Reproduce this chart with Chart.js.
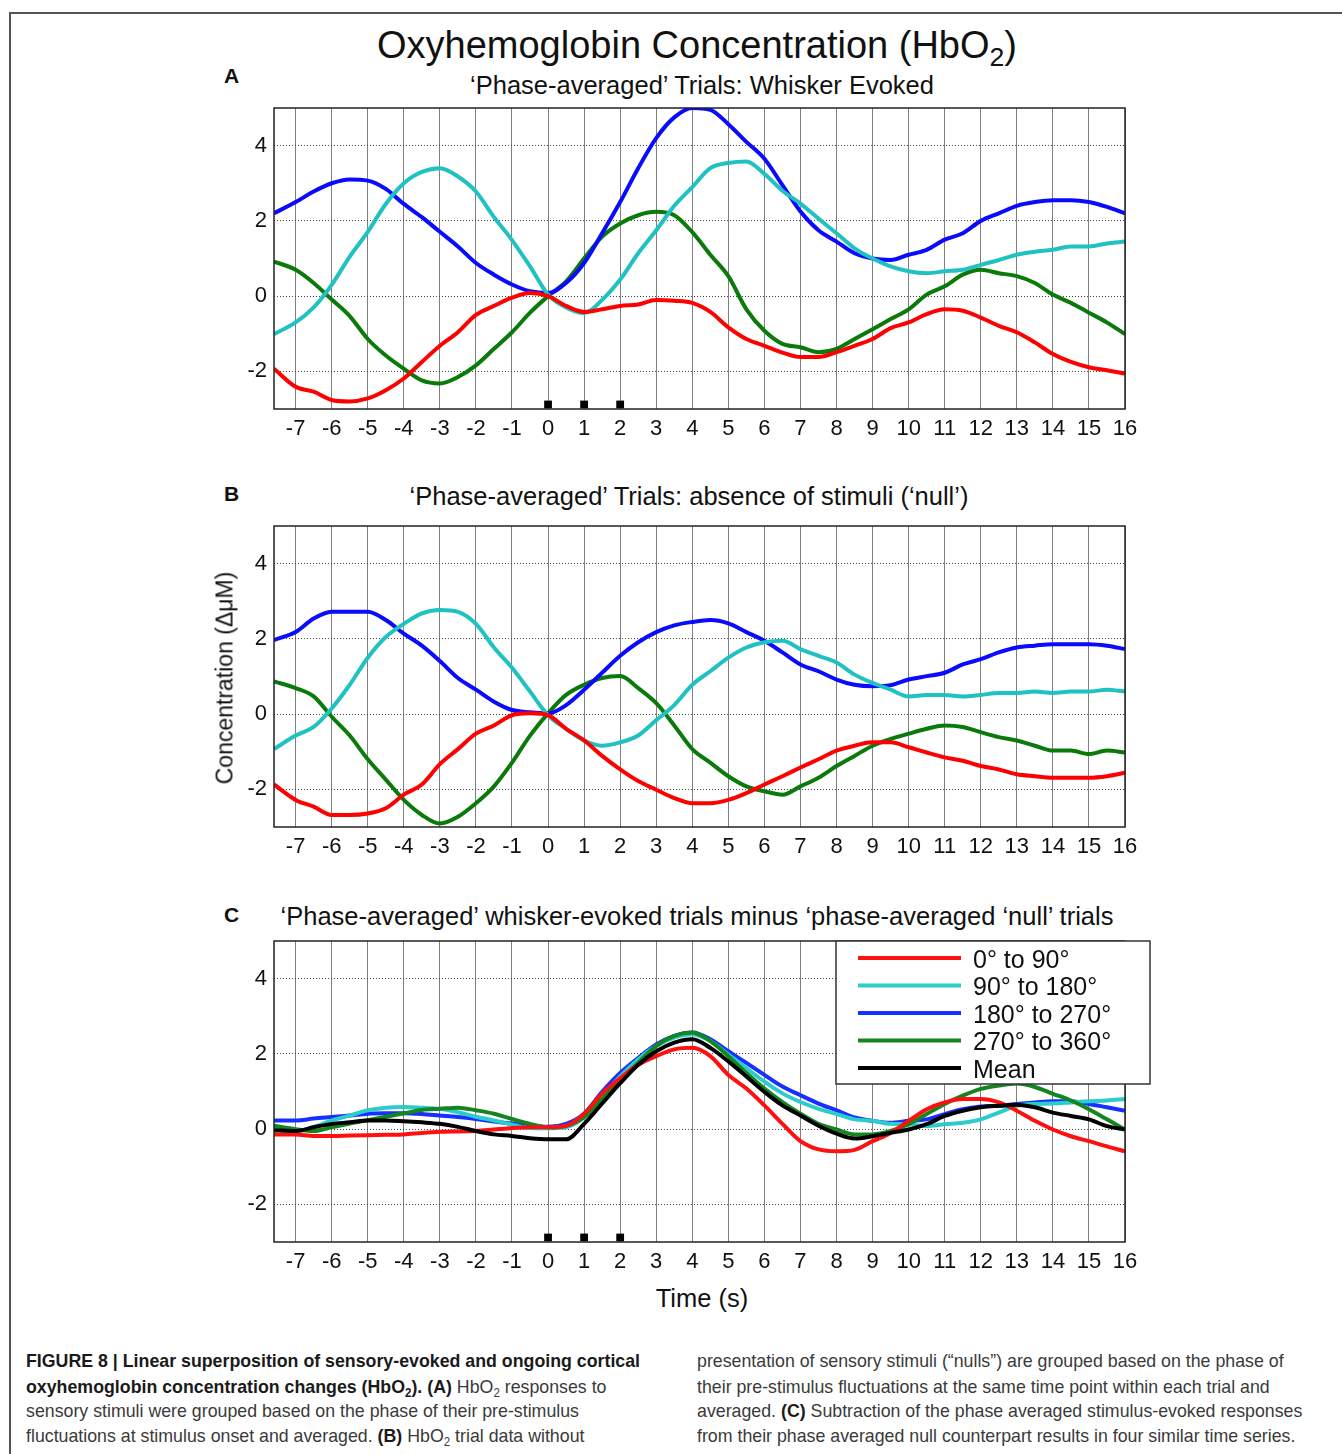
<!DOCTYPE html>
<html>
<head>
<meta charset="utf-8">
<script src="https://cdn.jsdelivr.net/npm/chart.js@4.4.1/dist/chart.umd.min.js"></script>
<style>
body{margin:0;background:#fff;width:1342px;height:1454px;overflow:hidden;position:relative;font-family:"Liberation Sans",Arial,sans-serif;}
.frame{position:absolute;left:9px;top:12px;width:1340px;height:1450px;border-top:2px solid #555;border-left:2px solid #555;}
canvas{position:absolute;left:200px;}
.t{position:absolute;white-space:nowrap;line-height:1;color:#111;}
.c{transform:translateX(-50%);}
.t sub{font-size:0.7em;vertical-align:-0.3em;line-height:0;}
.cap{position:absolute;font-family:"Liberation Sans Narrow","Arial Narrow","Liberation Sans",sans-serif;font-size:19px;color:#3a3a3a;line-height:1;white-space:nowrap;transform:scaleX(0.935);transform-origin:0 0;}
.cap b{color:#1a1a1a}
.cap sub{font-size:0.65em;vertical-align:-0.3em;line-height:0;}
</style>
</head>
<body>
<div class="frame"></div>
<canvas id="chartA" width="960" height="345" style="top:100px"></canvas>
<canvas id="chartB" width="960" height="345" style="top:518px"></canvas>
<canvas id="chartC" width="960" height="345" style="top:933px"></canvas>

<div class="t c" style="left:697px;top:26px;font-size:38px">Oxyhemoglobin Concentration (HbO<sub>2</sub>)</div>
<div class="t" style="left:224px;top:65px;font-size:21px;font-weight:bold">A</div>
<div class="t c" style="left:702px;top:73px;font-size:25.5px">‘Phase-averaged’ Trials: Whisker Evoked</div>
<div class="t" style="left:224px;top:483px;font-size:21px;font-weight:bold">B</div>
<div class="t c" style="left:689px;top:484px;font-size:25.5px">‘Phase-averaged’ Trials: absence of stimuli (‘null’)</div>
<div class="t" style="left:224px;top:904px;font-size:21px;font-weight:bold">C</div>
<div class="t c" style="left:697px;top:904px;font-size:25.5px">‘Phase-averaged’ whisker-evoked trials minus ‘phase-averaged ‘null’ trials</div>
<div class="t c" style="left:702px;top:1286px;font-size:25.5px">Time (s)</div>
<div class="t" style="left:225px;top:678px;font-size:23px;transform:translate(-50%,-50%) rotate(-90deg)">Concentration (ΔμM)</div>

<div class="cap" style="left:26px;top:1351px"><b>FIGURE 8 | Linear superposition of sensory-evoked and ongoing cortical</b></div>
<div class="cap" style="left:26px;top:1377px"><b>oxyhemoglobin concentration changes (HbO<sub>2</sub>). (A)</b> HbO<sub>2</sub> responses to</div>
<div class="cap" style="left:26px;top:1401px">sensory stimuli were grouped based on the phase of their pre-stimulus</div>
<div class="cap" style="left:26px;top:1426px">fluctuations at stimulus onset and averaged. <b>(B)</b> HbO<sub>2</sub> trial data without</div>
<div class="cap" style="left:697px;top:1351px">presentation of sensory stimuli (“nulls”) are grouped based on the phase of</div>
<div class="cap" style="left:697px;top:1377px">their pre-stimulus fluctuations at the same time point within each trial and</div>
<div class="cap" style="left:697px;top:1401px">averaged. <b>(C)</b> Subtraction of the phase averaged stimulus-evoked responses</div>
<div class="cap" style="left:697px;top:1426px">from their phase averaged null counterpart results in four similar time series.</div>

<script>
// time axis (s) and tick labels
var times = [-7.6,-7,-6.5,-6,-5.5,-5,-4.5,-4,-3.5,-3,-2.5,-2,-1.5,-1,-0.5,0,0.5,1,1.5,2,2.5,3,3.5,4,4.5,5,5.5,6,6.5,7,7.5,8,8.5,9,9.5,10,10.5,11,11.5,12,12.5,13,13.5,14,14.5,15,15.5,16];
var xTicks = [-7,-6,-5,-4,-3,-2,-1,0,1,2,3,4,5,6,7,8,9,10,11,12,13,14,15,16];
var yTicks = [-2,0,2,4];
var stimTimes = [0,1,2];
var phaseLabels = ['0° to 90°','90° to 180°','180° to 270°','270° to 360°','Mean'];

// A: whisker evoked
var redA = [-1.93,-2.41,-2.54,-2.76,-2.8,-2.72,-2.5,-2.19,-1.75,-1.32,-0.96,-0.5,-0.26,-0.04,0.08,0,-0.26,-0.42,-0.35,-0.26,-0.22,-0.1,-0.12,-0.18,-0.42,-0.83,-1.14,-1.32,-1.5,-1.62,-1.62,-1.49,-1.32,-1.14,-0.85,-0.7,-0.48,-0.35,-0.39,-0.57,-0.79,-0.96,-1.23,-1.54,-1.75,-1.89,-1.97,-2.06];
var cyanA = [-1.01,-0.7,-0.3,0.3,1.05,1.71,2.45,3.0,3.3,3.4,3.18,2.78,2.1,1.49,0.79,0.04,-0.3,-0.45,-0.1,0.44,1.14,1.75,2.4,2.9,3.4,3.54,3.58,3.25,2.8,2.46,2.06,1.67,1.27,1.0,0.79,0.66,0.61,0.66,0.7,0.83,0.96,1.1,1.18,1.23,1.32,1.32,1.4,1.45];
var blueA = [2.2,2.5,2.78,3.0,3.1,3.07,2.85,2.45,2.1,1.71,1.32,0.88,0.57,0.31,0.13,0.08,0.35,0.88,1.67,2.5,3.4,4.2,4.75,5.0,4.95,4.57,4.1,3.65,2.95,2.25,1.75,1.45,1.14,1.0,0.96,1.1,1.23,1.5,1.67,2.0,2.2,2.4,2.5,2.55,2.55,2.5,2.37,2.2];
var greenA = [0.92,0.7,0.35,-0.09,-0.53,-1.14,-1.58,-1.93,-2.24,-2.32,-2.15,-1.84,-1.4,-0.96,-0.44,0,0.39,1.0,1.58,1.93,2.15,2.24,2.15,1.7,1.1,0.53,-0.35,-0.92,-1.27,-1.36,-1.49,-1.4,-1.14,-0.88,-0.61,-0.35,0.04,0.26,0.57,0.7,0.61,0.53,0.35,0.04,-0.18,-0.44,-0.7,-1.01];

// B: null trials
var redB = [-1.87,-2.28,-2.46,-2.68,-2.68,-2.64,-2.5,-2.14,-1.87,-1.33,-0.93,-0.52,-0.3,-0.03,0.02,-0.03,-0.39,-0.7,-1.11,-1.47,-1.78,-2.01,-2.23,-2.37,-2.37,-2.28,-2.1,-1.87,-1.65,-1.42,-1.2,-0.97,-0.84,-0.75,-0.75,-0.88,-1.02,-1.15,-1.24,-1.38,-1.47,-1.6,-1.65,-1.69,-1.69,-1.69,-1.65,-1.56];
var cyanB = [-0.93,-0.57,-0.34,0.15,0.78,1.5,2.05,2.4,2.68,2.77,2.72,2.4,1.77,1.23,0.6,-0.03,-0.39,-0.7,-0.84,-0.75,-0.57,-0.16,0.24,0.78,1.14,1.5,1.77,1.91,1.95,1.73,1.55,1.37,1.05,0.83,0.65,0.47,0.51,0.51,0.47,0.51,0.56,0.56,0.6,0.56,0.6,0.6,0.65,0.6];
var blueB = [1.97,2.18,2.54,2.72,2.72,2.72,2.5,2.14,1.82,1.41,0.96,0.65,0.33,0.11,0.05,0.02,0.24,0.65,1.1,1.55,1.91,2.18,2.36,2.45,2.5,2.41,2.18,1.95,1.64,1.32,1.14,0.92,0.78,0.74,0.77,0.92,1.01,1.1,1.32,1.46,1.64,1.77,1.82,1.86,1.86,1.86,1.82,1.73];
var greenB = [0.87,0.69,0.47,-0.07,-0.57,-1.2,-1.74,-2.28,-2.68,-2.91,-2.73,-2.37,-1.92,-1.29,-0.57,0.02,0.51,0.78,0.96,1.01,0.69,0.29,-0.3,-0.93,-1.29,-1.65,-1.92,-2.05,-2.14,-1.92,-1.69,-1.38,-1.11,-0.84,-0.66,-0.52,-0.39,-0.3,-0.34,-0.48,-0.61,-0.7,-0.84,-0.97,-0.97,-1.06,-0.97,-1.02];

// C: evoked minus null
var redC = [-0.14,-0.14,-0.18,-0.18,-0.17,-0.16,-0.15,-0.14,-0.1,-0.07,-0.06,-0.05,-0.01,0.03,0.05,0.05,0.09,0.41,0.95,1.35,1.71,1.94,2.12,2.16,1.94,1.44,1.08,0.63,0.14,-0.32,-0.54,-0.59,-0.55,-0.32,-0.1,0.22,0.53,0.71,0.8,0.8,0.71,0.49,0.22,-0.01,-0.19,-0.32,-0.46,-0.59];
var cyanC = [0.05,-0.05,0.05,0.23,0.36,0.5,0.57,0.59,0.57,0.54,0.45,0.33,0.23,0.12,0.03,0.02,0.05,0.32,0.86,1.4,1.85,2.21,2.43,2.52,2.34,1.98,1.62,1.26,0.95,0.72,0.54,0.4,0.26,0.22,0.14,0.13,0.08,0.13,0.17,0.26,0.44,0.62,0.67,0.68,0.71,0.74,0.76,0.8];
var blueC = [0.23,0.23,0.28,0.32,0.36,0.41,0.42,0.42,0.4,0.36,0.32,0.27,0.2,0.15,0.09,0.06,0.14,0.41,0.99,1.49,1.89,2.25,2.48,2.57,2.39,2.07,1.76,1.44,1.13,0.9,0.68,0.5,0.31,0.22,0.17,0.22,0.26,0.4,0.53,0.6,0.62,0.67,0.71,0.74,0.74,0.67,0.58,0.49];
var greenC = [0.09,0,-0.05,0.05,0.15,0.24,0.33,0.42,0.51,0.54,0.57,0.5,0.41,0.27,0.14,0.05,0.09,0.32,0.81,1.31,1.76,2.21,2.48,2.57,2.34,1.94,1.49,1.08,0.72,0.41,0.14,-0.01,-0.14,-0.14,-0.05,0.13,0.4,0.67,0.89,1.07,1.16,1.21,1.12,0.94,0.76,0.53,0.26,-0.01];
var meanC = [-0.03,-0.05,0.05,0.14,0.18,0.23,0.23,0.21,0.18,0.14,0.06,-0.05,-0.14,-0.18,-0.24,-0.27,-0.27,0.14,0.68,1.22,1.71,2.07,2.3,2.39,2.16,1.8,1.4,0.99,0.63,0.36,0.09,-0.12,-0.25,-0.19,-0.1,-0.01,0.13,0.35,0.49,0.58,0.62,0.65,0.58,0.44,0.35,0.26,0.08,-0.01];

var FONT = '"Liberation Sans", Arial, sans-serif';

function pts(vals){
    return times.map(function(t,i){ return {x:t, y:vals[i]}; });
}
function line(label, vals, color, order){
    return {label:label, data:pts(vals), borderColor:color, backgroundColor:color, order:order || 0,
            borderWidth:4, pointRadius:0, cubicInterpolationMode:'monotone', fill:false};
}
function stimMarks(){
    return {label:'', data:stimTimes.map(function(t){ return {x:t, y:-2.88}; }),
            showLine:false, pointStyle:'rect', pointRadius:5.5, pointBackgroundColor:'#000',
            pointBorderWidth:0, borderWidth:0, order:0};
}

// black box round the plot area, like matlab
var boxPlugin = {
    id:'boxPlugin',
    afterDatasetsDraw: function(chart){
        var a = chart.chartArea, ctx = chart.ctx;
        ctx.save();
        ctx.strokeStyle = '#222';
        ctx.lineWidth = 1.5;
        ctx.strokeRect(a.left, a.top, a.right-a.left, a.bottom-a.top);
        ctx.restore();
    }
};

// legend drawn inside panel C
var legendBox = {
    id:'legendBox',
    afterDatasetsDraw: function(chart, args, opts){
        if(!opts || !opts.show) return;
        var a = chart.chartArea, ctx = chart.ctx;
        var x0 = a.right-289, y0 = a.top, w = 314, h = 143;
        ctx.save();
        ctx.fillStyle = '#fff';
        ctx.fillRect(x0, y0, w, h);
        ctx.strokeStyle = '#333';
        ctx.lineWidth = 1.5;
        ctx.strokeRect(x0, y0, w, h);
        ctx.font = '25px ' + FONT;
        ctx.textBaseline = 'middle';
        var ds = chart.data.datasets.filter(function(d){ return d.label; });
        ds.forEach(function(d, i){
            var y = y0 + 17 + i*27.5;
            ctx.strokeStyle = d.borderColor;
            ctx.lineWidth = 4;
            ctx.beginPath();
            ctx.moveTo(x0+22, y);
            ctx.lineTo(x0+125, y);
            ctx.stroke();
            ctx.fillStyle = '#111';
            ctx.fillText(d.label, x0+137, y+3);
        });
        ctx.restore();
    }
};

function makeChart(id, datasets, showLegend){
    var ctx = document.getElementById(id).getContext('2d');
    return new Chart(ctx, {
        type:'line',
        data:{datasets:datasets},
        options:{
            responsive:false,
            animation:false,
            layout:{padding:{top:8, right:35, left:0, bottom:0}},
            plugins:{legend:{display:false}, tooltip:{enabled:false}, legendBox:{show:showLegend}},
            scales:{
                x:{
                    type:'linear', min:-7.6, max:16,
                    afterBuildTicks:function(s){ s.ticks = xTicks.map(function(v){ return {value:v}; }); },
                    afterFit:function(s){ s.height = 36; s.paddingLeft = 0; s.paddingRight = 0; },
                    grid:{color:'#808080', lineWidth:1, drawTicks:false},
                    border:{display:false},
                    ticks:{color:'#111', font:{size:22, family:FONT}, padding:7, maxRotation:0, autoSkip:false,
                           callback:function(v){ return String(v); }}
                },
                y:{
                    min:-3, max:5,
                    afterBuildTicks:function(s){ s.ticks = yTicks.map(function(v){ return {value:v}; }); },
                    afterFit:function(s){ s.width = 74; s.paddingTop = 0; s.paddingBottom = 0; },
                    grid:{color:'#444', lineWidth:1, drawTicks:false},
                    border:{display:false, dash:[1,2]},
                    ticks:{color:'#111', font:{size:22, family:FONT}, padding:7,
                           callback:function(v){ return String(v); }}
                }
            }
        },
        plugins:[boxPlugin, legendBox]
    });
}

makeChart('chartA', [
    line(phaseLabels[0], redA, '#ff0000'),
    line(phaseLabels[1], cyanA, '#1fc1c1'),
    line(phaseLabels[2], blueA, '#0a0aff'),
    line(phaseLabels[3], greenA, '#0a7a0a'),
    stimMarks()
], false);

makeChart('chartB', [
    line(phaseLabels[0], redB, '#ff0000'),
    line(phaseLabels[1], cyanB, '#1fc1c1'),
    line(phaseLabels[2], blueB, '#0a0aff'),
    line(phaseLabels[3], greenB, '#0a7a0a')
], false);

// legend order kept in the array, 'order' puts the mean on top
makeChart('chartC', [
    line(phaseLabels[0], redC, '#ff1010', 1),
    line(phaseLabels[1], cyanC, '#2ccccc', 3),
    line(phaseLabels[2], blueC, '#1530ff', 4),
    line(phaseLabels[3], greenC, '#13861f', 2),
    line(phaseLabels[4], meanC, '#000000', 0),
    stimMarks()
], true);
</script>
</body>
</html>
